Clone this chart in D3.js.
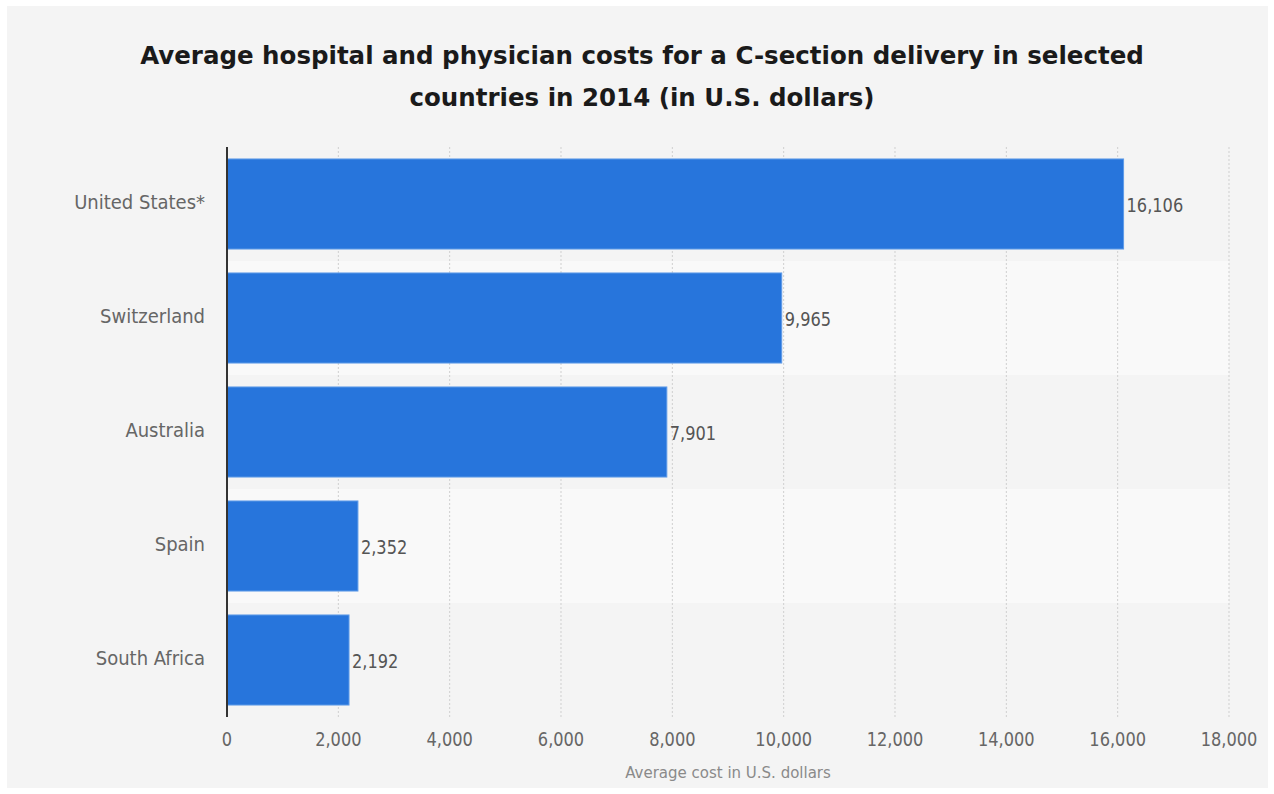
<!DOCTYPE html>
<html>
<head>
<meta charset="utf-8">
<script src="https://cdn.jsdelivr.net/npm/d3@7"></script>
<style>
  html, body { margin: 0; padding: 0; background: #ffffff; }
  svg { display: block; }
</style>
</head>
<body>
<svg id="chart" width="1274" height="794"></svg>
<script>
// Average C-section delivery costs, 2014 (USD)
const countries = ["United States*", "Switzerland", "Australia", "Spain", "South Africa"];
const costs = [16106, 9965, 7901, 2352, 2192];
const xTicks = [0, 2000, 4000, 6000, 8000, 10000, 12000, 14000, 16000, 18000];

const titleLines = [
  "Average hospital and physician costs for a C-section delivery in selected",
  "countries in 2014 (in U.S. dollars)"
];
const xTitle = "Average cost in U.S. dollars";

const W = 1274, H = 794;
const plot = { left: 227, right: 1229, top: 147, bottom: 717 };
const condensed = "'DejaVu Sans Condensed', 'DejaVu Sans', sans-serif";
const numScale = 0.9; // narrower numerals

const svg = d3.select("#chart");

// page panel
svg.append("rect").attr("x", 7).attr("y", 6).attr("width", W - 13).attr("height", H - 12)
  .attr("fill", "#f4f4f4");

// title
svg.append("text")
  .attr("x", 642).attr("text-anchor", "middle")
  .attr("font-family", "'DejaVu Sans', sans-serif").attr("font-weight", "bold")
  .attr("font-size", 24.5).attr("fill", "#1a1a1a")
  .selectAll("tspan").data(titleLines).join("tspan")
  .attr("x", 642).attr("y", (d, i) => 64 + i * 42).text(d => d);

const x = d3.scaleLinear().domain([0, 18000]).range([plot.left, plot.right]);
const rows = d3.scaleBand().domain(countries).range([plot.top, plot.bottom]);
const y = d3.scaleBand().domain(countries).range([plot.top, plot.bottom])
  .paddingInner(0.21).paddingOuter(0.105);

// alternating row stripes
svg.append("g").selectAll("rect").data(countries).join("rect")
  .attr("x", plot.left).attr("width", plot.right - plot.left)
  .attr("y", d => rows(d)).attr("height", rows.bandwidth())
  .attr("fill", (d, i) => i % 2 ? "#f9f9f9" : "#f4f4f4");

// vertical dotted gridlines
svg.append("g").selectAll("line").data(xTicks.filter(t => t > 0)).join("line")
  .attr("x1", d => x(d)).attr("x2", d => x(d))
  .attr("y1", plot.top).attr("y2", plot.bottom)
  .attr("stroke", "#cfcfcf").attr("stroke-width", 1).attr("stroke-dasharray", "2,2");

// bars
svg.append("g").selectAll("rect").data(countries).join("rect")
  .attr("x", x(0)).attr("y", d => y(d))
  .attr("width", (d, i) => x(costs[i]) - x(0))
  .attr("height", y.bandwidth())
  .attr("fill", "#2775dc").attr("stroke", "#5f9be8").attr("stroke-width", 1);

// value labels
svg.append("g").selectAll("text").data(countries).join("text")
  .attr("transform", (d, i) => `translate(${x(costs[i]) + 3},${y(d) + y.bandwidth() / 2 + 1}) scale(${numScale},1)`)
  .attr("dy", "0.35em")
  .attr("font-family", condensed).attr("font-size", 20).attr("fill", "#555555")
  .text((d, i) => d3.format(",")(costs[i]));

// category labels
svg.append("g").selectAll("text").data(countries).join("text")
  .attr("x", 205).attr("y", d => y(d) + y.bandwidth() / 2 - 2)
  .attr("dy", "0.35em").attr("text-anchor", "end")
  .attr("font-family", condensed).attr("font-size", 20).attr("fill", "#666666")
  .text(d => d);

// x axis tick labels
const xAxis = d3.axisBottom(x).tickValues(xTicks).tickFormat(d3.format(",")).tickSize(0).tickPadding(0);
const gx = svg.append("g").attr("transform", `translate(0,${plot.bottom + 15})`).call(xAxis);
gx.select(".domain").remove();
gx.selectAll("text").attr("font-family", condensed).attr("font-size", 20).attr("fill", "#666666")
  .attr("dy", "0.71em").attr("transform", `scale(${numScale},1)`);
gx.selectAll(".tick").attr("transform", d => `translate(${x(d)},0)`);

// y axis line
svg.append("line").attr("x1", plot.left).attr("x2", plot.left)
  .attr("y1", plot.top).attr("y2", plot.bottom)
  .attr("stroke", "#333333").attr("stroke-width", 2);

// x axis title
svg.append("text").attr("x", (plot.left + plot.right) / 2).attr("y", 778)
  .attr("text-anchor", "middle")
  .attr("font-family", "'DejaVu Sans', sans-serif").attr("font-size", 15).attr("fill", "#8a8a8a")
  .text(xTitle);
</script>
</body>
</html>
